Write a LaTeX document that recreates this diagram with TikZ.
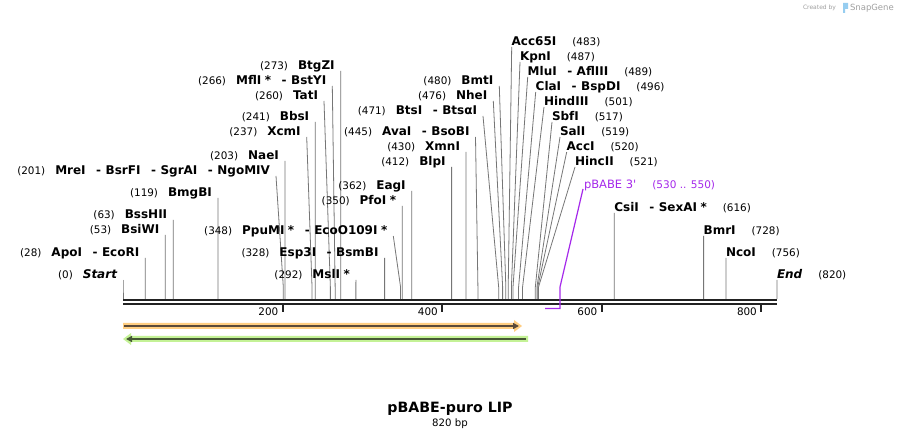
\documentclass[tikz,border=0pt]{standalone}
\usepackage{fontspec}
\setmainfont{DejaVu Sans}
\usetikzlibrary{arrows.meta}
\definecolor{sitegray}{RGB}{118,118,118}
\definecolor{rulerc}{RGB}{34,34,34}
\definecolor{featpurple}{RGB}{165,40,235}
\definecolor{orangefill}{RGB}{255,206,130}
\definecolor{orangeline}{RGB}{90,74,58}
\definecolor{greenfill}{RGB}{196,242,150}
\definecolor{greenline}{RGB}{70,88,52}
\definecolor{logogray}{RGB}{160,160,160}
\definecolor{logoblue}{RGB}{150,205,240}
\newcommand\nm[1]{{\fontsize{12}{14}\selectfont\bfseries #1}}
\newcommand\nb[1]{{\fontsize{10.4}{12}\selectfont #1}}
\newcommand\sepd{\hspace{10.5pt}{\fontsize{12}{14}\selectfont\bfseries -}\hspace{4.5pt}}
\newcommand\gapL{\hspace{10pt}}
\newcommand\gapR{\hspace{16pt}}
\newcommand\starmk{\hspace{3.5pt}*}
% left-side site: id, bp, xtop, ytop, text
\newcommand\lsite[5]{%
  \coordinate (#1t) at (#3,#4);
  \coordinate (#1k) at ({123+#2*0.797561},287);
  \coordinate (#1b) at ({123+#2*0.797561},299);
  \node[lab,anchor=base east] (#1) at ([xshift=-6pt,yshift=1pt]#1t) {#5};
  \draw[site] (#1t) -- (#1k) -- (#1b);}
% right-side site
\newcommand\rsite[5]{%
  \coordinate (#1t) at (#3,#4);
  \coordinate (#1k) at ({123+#2*0.797561},287);
  \coordinate (#1b) at ({123+#2*0.797561},299);
  \node[lab,anchor=base west] (#1) at ([xshift=0pt,yshift=1pt]#1t) {#5};
  \draw[site] (#1t) -- (#1k) -- (#1b);}
\begin{document}
\begin{tikzpicture}[x=1pt,y=-1pt,
  lab/.style={inner sep=0pt,outer sep=0pt},
  site/.style={draw=sitegray,line width=0.8pt},
  rulerline/.style={draw=rulerc,line width=2.4pt},
  tickline/.style={draw=rulerc,line width=2pt},
  ticklab/.style={inner sep=0pt,anchor=base east,font=\fontsize{10.4}{12}\selectfont}]
\useasboundingbox (0,0) rectangle (900,438);
\fill[white] (0,0) rectangle (900,438);

% watermark
\node[lab,anchor=base west,text=logogray] (cb) at (803,10) {\fontsize{6}{7}\selectfont Created by};
\fill[logoblue] (843,3) rectangle (848,9) (843,3) rectangle (845,13);
\node[lab,anchor=base west,text=logogray] (sg) at (850,11) {\fontsize{8.5}{10}\selectfont SnapGene};

% ruler
\coordinate (r0) at (123,300);
\coordinate (r1) at (777,300);
\coordinate (s0) at (123,304);
\coordinate (s1) at (777,304);
\draw[rulerline] (r0) -- (r1);
\draw[rulerline] (s0) -- (s1);
\foreach \v in {200,400,600,800}{
  \coordinate (tk\v) at ({123+\v*0.797561},305);
  \coordinate (te\v) at ({123+\v*0.797561},312);
  \draw[tickline] (tk\v) -- (te\v);
  \node[ticklab] (tl\v) at ([xshift=-4pt,yshift=-4pt]te\v) {\v};
}

% left-side sites
\lsite{Start}{0}{123}{280}{\nb{(0)}\gapL\nm{\itshape Start}}
\lsite{ApoI}{28}{145.3}{258}{\nb{(28)}\gapL\nm{ApoI}\sepd\nm{EcoRI}}
\lsite{BsiWI}{53}{165.3}{235}{\nb{(53)}\gapL\nm{BsiWI}}
\lsite{BssHII}{63}{173.2}{220}{\nb{(63)}\gapL\nm{BssHII}}
\lsite{BmgBI}{119}{217.9}{198}{\nb{(119)}\gapL\nm{BmgBI}}
\lsite{MreI}{201}{276}{176}{\nb{(201)}\gapL\nm{MreI}\sepd\nm{BsrFI}\sepd\nm{SgrAI}\sepd\nm{NgoMIV}}
\lsite{NaeI}{203}{284.9}{161}{\nb{(203)}\gapL\nm{NaeI}}
\lsite{XcmI}{237}{306.7}{137}{\nb{(237)}\gapL\nm{XcmI}}
\lsite{BbsI}{241}{315.2}{122}{\nb{(241)}\gapL\nm{BbsI}}
\lsite{TatI}{260}{324}{101}{\nb{(260)}\gapL\nm{TatI}}
\lsite{MflI}{266}{332.3}{86}{\nb{(266)}\gapL\nm{MflI\starmk}\sepd\nm{BstYI}}
\lsite{BtgZI}{273}{340.7}{71}{\nb{(273)}\gapL\nm{BtgZI}}
\lsite{MslI}{292}{355.9}{280}{\nb{(292)}\gapL\nm{MslI\starmk}}
\lsite{Esp3I}{328}{384.6}{258}{\nb{(328)}\gapL\nm{Esp3I}\sepd\nm{BsmBI}}
\lsite{PpuMI}{348}{393.3}{236}{\nb{(348)}\gapL\nm{PpuMI\starmk}\sepd\nm{EcoO109I\starmk}}
\lsite{PfoI}{350}{402.2}{206}{\nb{(350)}\gapL\nm{PfoI\starmk}}
\lsite{EagI}{362}{411.7}{191}{\nb{(362)}\gapL\nm{EagI}}
\lsite{BlpI}{412}{451.6}{167}{\nb{(412)}\gapL\nm{BlpI}}
\lsite{XmnI}{430}{466}{152}{\nb{(430)}\gapL\nm{XmnI}}
\lsite{AvaI}{445}{475.5}{137}{\nb{(445)}\gapL\nm{AvaI}\sepd\nm{BsoBI}}
\lsite{BtsI}{471}{483}{116}{\nb{(471)}\gapL\nm{BtsI}\sepd\nm{BtsαI}}
\lsite{NheI}{476}{493.3}{101}{\nb{(476)}\gapL\nm{NheI}}
\lsite{BmtI}{480}{499.3}{86}{\nb{(480)}\gapL\nm{BmtI}}

% right-side sites
\rsite{Acc65I}{483}{511.7}{47}{\nm{Acc65I}\gapR\nb{(483)}}
\rsite{KpnI}{487}{520}{62}{\nm{KpnI}\gapR\nb{(487)}}
\rsite{MluI}{489}{527.7}{77}{\nm{MluI}\sepd\nm{AflIII}\gapR\nb{(489)}}
\rsite{ClaI}{496}{535.7}{92}{\nm{ClaI}\sepd\nm{BspDI}\gapR\nb{(496)}}
\rsite{HindIII}{501}{544}{107}{\nm{HindIII}\gapR\nb{(501)}}
\rsite{SbfI}{517}{552}{122}{\nm{SbfI}\gapR\nb{(517)}}
\rsite{SalI}{519}{560}{137}{\nm{SalI}\gapR\nb{(519)}}
\rsite{AccI}{520}{566.7}{152}{\nm{AccI}\gapR\nb{(520)}}
\rsite{HincII}{521}{575}{167}{\nm{HincII}\gapR\nb{(521)}}
\rsite{CsiI}{616}{614.3}{213}{\nm{CsiI}\sepd\nm{SexAI\starmk}\gapR\nb{(616)}}
\rsite{BmrI}{728}{703.6}{236}{\nm{BmrI}\gapR\nb{(728)}}
\rsite{NcoI}{756}{726}{258}{\nm{NcoI}\gapR\nb{(756)}}
\rsite{End}{820}{777}{280}{\nm{\itshape End}\gapR\nb{(820)}}

% primer feature pBABE 3'
\coordinate (pbt) at (583,189);
\coordinate (pbk) at (560,287);
\coordinate (pbr) at (560,308.5);
\coordinate (pbl) at (545,308.5);
\node[lab,anchor=base west,text=featpurple] (pbabe) at ([xshift=1pt,yshift=0pt]pbt)
  {{\fontsize{11.5}{13}\selectfont pBABE 3\textquotesingle}\hspace{16pt}{\fontsize{10.5}{12}\selectfont (530 .. 550)}};
\draw[featpurple,line width=1.2pt] (pbt) -- (pbk) -- (pbr) -- (pbl);

% features (arrows)
\fill[orangefill] (123,323) -- (514,323) -- (514,320) -- (522,326) -- (514,332) -- (514,329) -- (123,329) -- cycle;
\coordinate (oa) at (124,326);
\coordinate (ob) at (519,326);
\draw[orangeline,line width=2pt,-{Triangle[length=6pt,width=6pt]}] (oa) -- (ob);
\fill[greenfill] (528,336) -- (131,336) -- (131,333) -- (123,339) -- (131,345) -- (131,342) -- (528,342) -- cycle;
\coordinate (ga) at (526,339);
\coordinate (gb) at (126,339);
\draw[greenline,line width=2pt,-{Triangle[length=6pt,width=6pt]}] (ga) -- (gb);

% title
\node[lab,anchor=base] (title) at (450,413) {\fontsize{14.2}{16}\selectfont\bfseries pBABE-puro LIP};
\node[lab,anchor=base] (len) at (450,426) {\fontsize{10.2}{12}\selectfont 820 bp};
\end{tikzpicture}
\end{document}
